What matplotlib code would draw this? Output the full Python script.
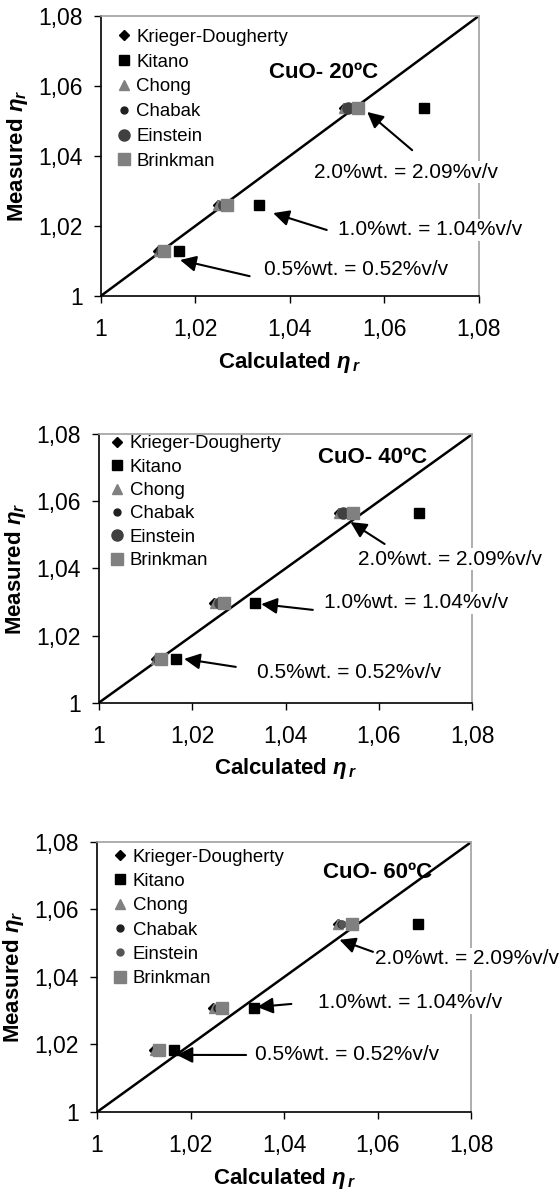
import numpy as np
import matplotlib.pyplot as plt

plt.rcParams['font.family'] = ['Liberation Sans', 'DejaVu Sans']
plt.rcParams['mathtext.fontset'] = 'custom'
plt.rcParams['mathtext.it'] = 'Liberation Sans:bold:italic'
plt.rcParams['mathtext.rm'] = 'Liberation Sans:bold'

# calculated relative viscosity for 0.5, 1.0, 2.0 %wt
krieger = [1.0122, 1.0248, 1.0514]
kitano = [1.0165, 1.0335, 1.0685]
chong = [1.0123, 1.0249, 1.0515]
chabak = [1.0128, 1.0257, 1.0522]
einstein = [1.0130, 1.0260, 1.0523]
brinkman = [1.0133, 1.0268, 1.0545]

# measured relative viscosity per temperature
measured_20 = [1.0129, 1.0260, 1.0537]
measured_40 = [1.0130, 1.0297, 1.0564]
measured_60 = [1.0184, 1.0307, 1.0557]

titles = ["CuO- 20ºC", "CuO- 40ºC", "CuO- 60ºC"]
notes = ["0.5%wt. = 0.52%v/v", "1.0%wt. = 1.04%v/v", "2.0%wt. = 2.09%v/v"]
ticks = [1, 1.02, 1.04, 1.06, 1.08]
tick_labels = ["1", "1,02", "1,04", "1,06", "1,08"]

fig = plt.figure(figsize=(5.6, 11.89), dpi=100)

panels = [
    dict(rect=[0.1798, 0.751, 0.675, 0.2355], meas=measured_20,
         title_xy=(0.589, 0.80), leg=(0.045, 0.955), lspace=0.42, ein_ms=8, ein_c='#404040',
         text_xy=[(0.433, 0.096), (0.629, 0.236), (0.564, 0.443)],
         tail=[(0.394, 0.071), (0.598, 0.236), (0.824, 0.521)],
         head=[(1.0168, 1.0103), (1.0365, 1.0237), (1.0564, 1.0526)]),
    dict(rect=[0.176, 0.4088, 0.6677, 0.2262], meas=measured_40,
         title_xy=(0.734, 0.911), leg=(0.033, 0.995), lspace=0.34, ein_ms=8, ein_c='#404040',
         text_xy=[(0.424, 0.112), (0.602, 0.372), (0.693, 0.535)],
         tail=[(0.367, 0.134), (0.573, 0.346), (0.765, 0.591)],
         head=[(1.0183, 1.0131), (1.0348, 1.0294), (1.0539, 1.0538)]),
    dict(rect=[0.1734, 0.0648, 0.6684, 0.2271], meas=measured_60,
         title_xy=(0.748, 0.885), leg=(0.045, 0.975), lspace=0.39, ein_ms=5, ein_c='#555555',
         text_xy=[(0.422, 0.211), (0.589, 0.404), (0.742, 0.567)],
         tail=[(0.398, 0.211), (0.519, 0.400), (0.737, 0.593)],
         head=[(1.0170, 1.0169), (1.0342, 1.0311), (1.0518, 1.0510)]),
]

for i, p in enumerate(panels):
    ax = fig.add_axes(p['rect'])
    m = p['meas']
    ax.plot([1, 1.08], [1, 1.08], color='black', lw=1.8, zorder=2)
    ax.plot(krieger, m, ls='none', marker='D', ms=5, color='black', label='Krieger-Dougherty')
    ax.plot(kitano, m, ls='none', marker='s', ms=7, color='black', label='Kitano')
    ax.plot(chong, m, ls='none', marker='^', ms=7, color='#808080', label='Chong')
    ax.plot(chabak, m, ls='none', marker='o', ms=5, color='#202020', label='Chabak')
    ax.plot(einstein, m, ls='none', marker='o', ms=p['ein_ms'], color=p['ein_c'], label='Einstein')
    ax.plot(brinkman, m, ls='none', marker='s', ms=8.5, color='#808080', label='Brinkman')

    ax.set_xlim(1, 1.08)
    ax.set_ylim(1, 1.08)
    ax.set_xticks(ticks)
    ax.set_xticklabels(tick_labels)
    ax.set_yticks(ticks)
    ax.set_yticklabels(tick_labels)
    ax.tick_params(direction='out', length=5, width=1, labelsize=16.5, pad=8)
    ax.tick_params(axis='x', pad=11)
    for s in ['top', 'right']:
        ax.spines[s].set_color('#a0a0a0')
        ax.spines[s].set_linewidth(1.2)
    for s in ['left', 'bottom']:
        ax.spines[s].set_linewidth(1.2)

    ax.set_xlabel(r"Calculated $\eta_{\,r}$", fontsize=16, fontweight='bold', labelpad=6)
    ax.set_ylabel(r"Measured $\eta_r$", fontsize=16, fontweight='bold', labelpad=6)

    ax.text(p['title_xy'][0], p['title_xy'][1], titles[i], transform=ax.transAxes,
            ha='center', va='center', fontsize=16, fontweight='bold')

    ax.legend(loc='upper left', bbox_to_anchor=p['leg'], frameon=False, fontsize=13.4,
              handlelength=0.7, handletextpad=0.3, labelspacing=p['lspace'],
              borderpad=0, borderaxespad=0, numpoints=1)

    for k in range(3):
        ax.text(p['text_xy'][k][0], p['text_xy'][k][1], notes[k], transform=ax.transAxes,
                ha='left', va='center', fontsize=15, clip_on=False, zorder=5,
                bbox=dict(facecolor='white', edgecolor='none', pad=1))
        ax.annotate('', xy=p['head'][k], xycoords='data',
                    xytext=p['tail'][k], textcoords='axes fraction',
                    arrowprops=dict(arrowstyle='-|>', mutation_scale=24, lw=1.5,
                                    color='black', shrinkA=0, shrinkB=0), zorder=6)

fig.savefig('out.png', dpi=100)
